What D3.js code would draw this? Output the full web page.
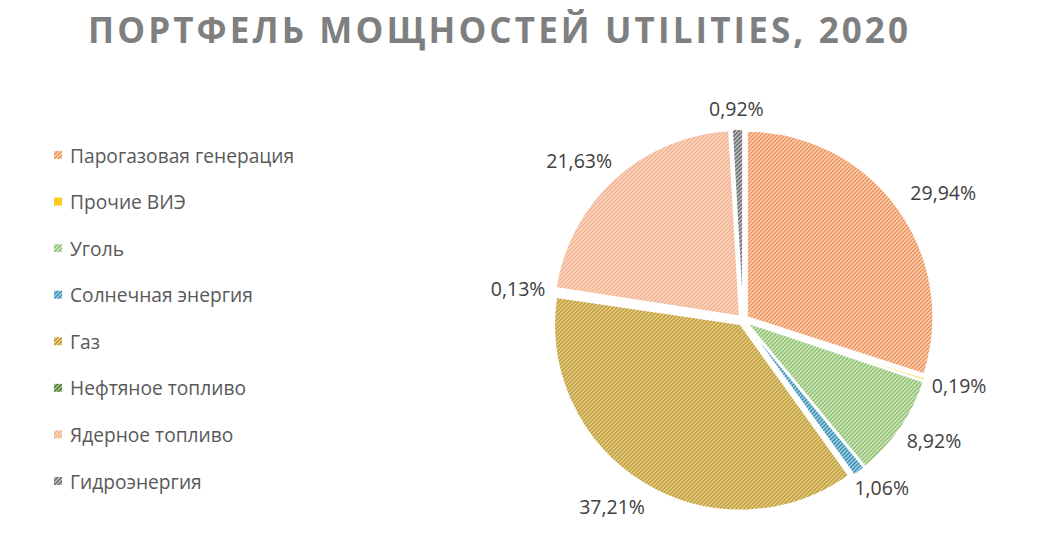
<!DOCTYPE html>
<html lang="ru">
<head>
  <meta charset="UTF-8">
  <title>Портфель мощностей Utilities, 2020</title>
  <script src="https://d3js.org/d3.v7.min.js"></script>
  <style>
    body { margin: 0; background: #fff; }
    svg { display: block; }
    .title { font-family: "Open Sans", sans-serif; font-weight: bold; fill: #7f7f7f; }
    .legend text { font-family: "Open Sans", sans-serif; font-size: 19.2px; fill: #595959; }
    .label { font-family: "Open Sans", sans-serif; font-size: 19.5px; fill: #404040; }
  </style>
</head>
<body>
  <svg width="1047" height="536"></svg>
  <script>
    const categories = ["Парогазовая генерация", "Прочие ВИЭ", "Уголь", "Солнечная энергия",
                        "Газ", "Нефтяное топливо", "Ядерное топливо", "Гидроэнергия"];
    const shares = [29.94, 0.19, 8.92, 1.06, 37.21, 0.13, 21.63, 0.92];
    const stripeColors = ["#ec8a4e", "#ffc000", "#7fb55a", "#2f86a8", "#a8882c", "#466b2c", "#f0a47c", "#626262"];
    const backColors = ["#fcd6bd", "#ffd54a", "#dcefcf", "#a6d6ea", "#f8de92", "#a8cf8c", "#fde1d1", "#c4c4c4"];

    const svg = d3.select("svg");
    const cx = 743, cy = 320, radius = 186, explode = 5;

    // hatch patterns
    const defs = svg.append("defs");
    categories.forEach((c, i) => {
      const p = defs.append("pattern")
        .attr("id", "hatch" + i)
        .attr("patternUnits", "userSpaceOnUse")
        .attr("width", 4).attr("height", 4);
      p.append("rect").attr("width", 4).attr("height", 4).attr("fill", backColors[i]);
      p.append("path")
        .attr("d", "M-1,1 l2,-2 M0,4 l4,-4 M3,5 l2,-2")
        .attr("stroke", stripeColors[i])
        .attr("stroke-width", 1.3);
    });

    // title
    svg.append("text")
      .attr("class", "title")
      .attr("x", 88).attr("y", 43)
      .attr("font-size", 35)
      .attr("textLength", 820)
      .attr("lengthAdjust", "spacing")
      .text("ПОРТФЕЛЬ МОЩНОСТЕЙ UTILITIES, 2020");

    // pie
    const pie = d3.pie().sort(null).value(d => d);
    const arc = d3.arc().innerRadius(0).outerRadius(radius);
    const arcs = pie(shares);
    const g = svg.append("g").attr("transform", `translate(${cx},${cy})`);

    g.selectAll("path.slice")
      .data(arcs)
      .join("path")
      .attr("class", "slice")
      .attr("d", arc)
      .attr("fill", (d, i) => `url(#hatch${i})`)
      .attr("stroke", "#fff")
      .attr("stroke-width", 1.5)
      .attr("transform", d => {
        const a = (d.startAngle + d.endAngle) / 2;
        return `translate(${explode * Math.sin(a)},${-explode * Math.cos(a)})`;
      });

    // data labels, outside end (big slices pushed a bit further, like Excel best fit)
    const fmt = v => v.toFixed(2).replace(".", ",") + "%";
    g.selectAll("text.label")
      .data(arcs)
      .join("text")
      .attr("class", "label")
      .attr("text-anchor", "middle")
      .attr("dominant-baseline", "central")
      .text(d => fmt(d.value))
      .each(function(d) {
        const a = (d.startAngle + d.endAngle) / 2;
        const w = this.getComputedTextLength();
        const h = 22;
        const rx = radius + 14 + d.value * 0.5;
        const ry = radius + 14 + d.value * 0.2;
        const x = rx * Math.sin(a) + (w / 2) * Math.sin(a);
        const y = -ry * Math.cos(a) - (h / 2) * Math.cos(a);
        d3.select(this).attr("x", x).attr("y", y);
      });

    // legend
    const legend = svg.append("g").attr("class", "legend");
    const rowY = d3.scalePoint().domain(categories).range([155, 481]);
    const items = legend.selectAll("g")
      .data(categories)
      .join("g")
      .attr("transform", d => `translate(54,${rowY(d)})`);
    items.append("rect")
      .attr("x", 0).attr("y", -4)
      .attr("width", 8).attr("height", 8)
      .attr("fill", (d, i) => `url(#hatch${i})`);
    items.append("text")
      .attr("x", 16).attr("y", 0)
      .attr("dominant-baseline", "central")
      .text(d => d);
  </script>
</body>
</html>
